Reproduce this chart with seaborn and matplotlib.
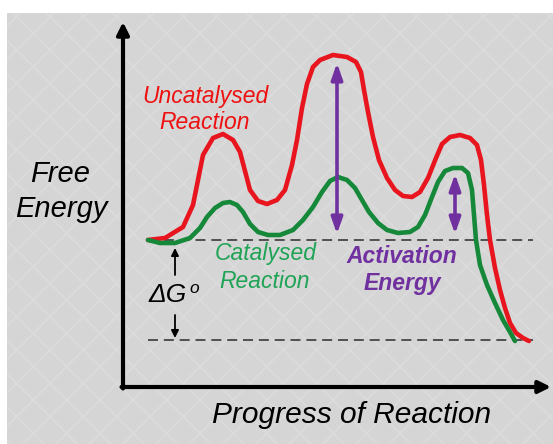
import matplotlib
matplotlib.use("Agg")
import matplotlib.pyplot as plt
import seaborn as sns
import pandas as pd
from matplotlib.patches import Rectangle

# ---------------- data ----------------
red_progress = [25, 42, 60, 70, 80, 90, 100, 110, 117, 127, 135, 144, 154, 162, 169, 174, 179, 184, 190, 197,
                210, 224, 233, 238, 241, 245, 250, 256, 264, 272, 280, 289, 297, 305, 313, 319, 327, 337, 347,
                354, 358, 361, 364, 367, 372, 377, 382, 387, 393, 400, 406]
red_energy = [147, 149, 160, 182, 232, 249, 253, 247, 235, 197, 186, 183, 187, 197, 222, 247, 279, 303, 320, 327,
              332, 330, 325, 315, 297, 275, 250, 227, 209, 197, 191, 190, 195, 209, 229, 243, 250, 252, 249,
              242, 227, 202, 172, 147, 119, 97, 79, 64, 54, 49, 46]

green_progress = [25, 37, 52, 67, 77, 84, 92, 100, 107, 114, 120, 127, 135, 145, 157, 170, 180, 190, 199, 207,
                  215, 224, 232, 239, 246, 255, 264, 275, 287, 295, 302, 309, 315, 322, 330, 339, 345, 349,
                  351, 353, 357, 364, 372, 380, 387, 392]
green_energy = [147, 144, 144, 149, 159, 170, 179, 184, 185, 182, 175, 163, 155, 152, 152, 157, 167, 180, 195, 206,
                210, 207, 199, 187, 175, 164, 157, 154, 155, 160, 172, 190, 205, 216, 219, 219, 214, 197,
                172, 147, 122, 102, 84, 67, 55, 46]

reactant_level = 147
product_level = 47
level_span = [25, 410]

big_barrier = [214, 324, 153]    # progress, top, bottom
small_barrier = [332, 213, 153]

labels_uncat = ["Uncatalysed", "Reaction"]
labels_cat = ["Catalysed", "Reaction"]
labels_act = ["Activation", "Energy"]
labels_y = ["Free", "Energy"]
label_x = "Progress of Reaction"

# ---------------- figure ----------------
W, H, DPI = 553, 444, 100
fig = plt.figure(figsize=(W / DPI, H / DPI), dpi=DPI)
ax = fig.add_axes([0, 0, 1, 1])

plt.rcParams["hatch.linewidth"] = 1.4
bg = Rectangle((7 / W, 0), 1 - 7 / W, (H - 13) / H, transform=ax.transAxes,
               facecolor="#d5d5d5", edgecolor="#dbdbdb", hatch="x", lw=0, zorder=0)
ax.add_patch(bg)

FONT = "Liberation Sans"
RED_LINE = "#e8141e"
GREEN_LINE = "#15883a"
PURPLE = "#7030a0"

red_df = pd.DataFrame({"progress": red_progress, "energy": red_energy})
green_df = pd.DataFrame({"progress": green_progress, "energy": green_energy})

# dashed reference levels
for lvl in (reactant_level, product_level):
    ax.plot(level_span, [lvl, lvl], color="#3a3a3a", lw=1.2, ls=(0, (6, 3.5)), zorder=2)

sns.lineplot(data=red_df, x="progress", y="energy", sort=False, color=RED_LINE, lw=3.3, ax=ax,
             zorder=3, solid_capstyle="round", solid_joinstyle="round")
sns.lineplot(data=green_df, x="progress", y="energy", sort=False, color=GREEN_LINE, lw=3.3, ax=ax,
             zorder=4, solid_capstyle="round", solid_joinstyle="round")
ax.set_xlim(-123, 430)
ax.set_ylim(-57, 387)
ax.axis("off")

# axes arrows
ax.annotate("", xy=(0, 365), xytext=(0, -1.5),
            arrowprops=dict(arrowstyle="-|>", lw=3, color="black", mutation_scale=18,
                            shrinkA=0, shrinkB=0), zorder=5)
ax.annotate("", xy=(428, 0), xytext=(-1.5, 0),
            arrowprops=dict(arrowstyle="-|>", lw=3, color="black", mutation_scale=18,
                            shrinkA=0, shrinkB=0), zorder=5)

# activation energy arrows
for px, top, bot in (big_barrier, small_barrier):
    ax.annotate("", xy=(px, top), xytext=(px, bot),
                arrowprops=dict(arrowstyle="<|-|>,head_length=0.8,head_width=0.28", lw=2.6,
                                color=PURPLE, mutation_scale=12, shrinkA=0, shrinkB=0), zorder=6)

# delta G arrows
ax.annotate("", xy=(52, 139), xytext=(52, 112),
            arrowprops=dict(arrowstyle="-|>", lw=1.3, color="black", mutation_scale=11,
                            shrinkA=0, shrinkB=0), zorder=6)
ax.annotate("", xy=(52, 49), xytext=(52, 72),
            arrowprops=dict(arrowstyle="-|>", lw=1.3, color="black", mutation_scale=11,
                            shrinkA=0, shrinkB=0), zorder=6)

# texts
ax.text(82, 284, labels_uncat[0], color="#ee1111", fontsize=16.5, style="italic", family=FONT,
        ha="center", va="baseline")
ax.text(82, 258, labels_uncat[1], color="#ee1111", fontsize=16.5, style="italic", family=FONT,
        ha="center", va="baseline")
ax.text(143, 127, labels_cat[0], color="#1fa355", fontsize=16.5, style="italic", family=FONT,
        ha="center", va="baseline")
ax.text(142, 99, labels_cat[1], color="#1fa355", fontsize=16.5, style="italic", family=FONT,
        ha="center", va="baseline")
ax.text(279, 124, labels_act[0], color=PURPLE, fontsize=16.5, style="italic", weight="bold",
        family=FONT, ha="center", va="baseline")
ax.text(279, 97, labels_act[1], color=PURPLE, fontsize=16.5, style="italic", weight="bold",
        family=FONT, ha="center", va="baseline")
ax.text(-63, 205, labels_y[0], color="black", fontsize=21, style="italic", family=FONT,
        ha="center", va="baseline")
ax.text(-62, 170, labels_y[1], color="black", fontsize=21, style="italic", family=FONT,
        ha="center", va="baseline")
ax.text(229, -36, label_x, color="black", fontsize=21.5, style="italic", family=FONT,
        ha="center", va="baseline")
ax.text(26, 85, "ΔG", color="black", fontsize=19, style="italic", family=FONT,
        ha="left", va="baseline")
ax.text(66, 94, "o", color="black", fontsize=12.5, style="italic", family=FONT,
        ha="left", va="baseline")

fig.savefig("out.png", dpi=DPI)
